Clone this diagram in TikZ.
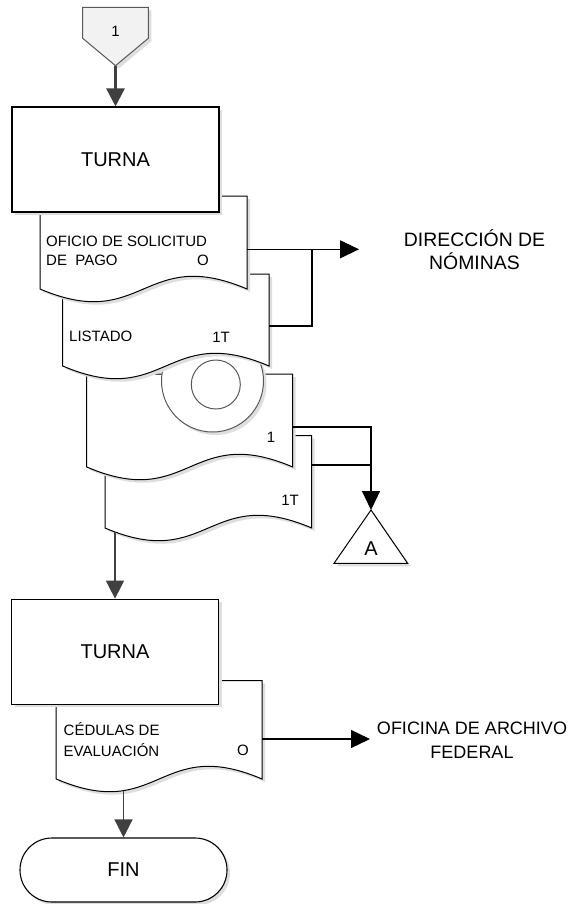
\documentclass[tikz,border=0pt]{standalone}
\usepackage{fontspec}
\setmainfont{Liberation Sans}
\usetikzlibrary{arrows.meta,shadows}
\definecolor{arrowgray}{HTML}{404040}
\definecolor{linegray}{HTML}{595959}
\definecolor{offfill}{HTML}{F2F2F2}
\definecolor{shadowgray}{HTML}{DEDEDE}
\newcommand{\flowdoc}[4]{(#1,#2) -- (#3,#2) -- (#3,#4) .. controls ({(#1+#3)/2},{#4-44}) and ({(#1+#3)/2},{#4+44}) .. (#1,#4) -- cycle}
\tikzset{
  shapeshadow/.style={drop shadow={shadow xshift=3pt, shadow yshift=-3pt, fill=shadowgray, opacity=1}},
  procbox/.style={draw=black, line width=1.1pt, fill=white, minimum width=207pt, minimum height=105pt, inner sep=0pt, font=\fontsize{20}{24}\selectfont, shapeshadow},
  terminal/.style={draw=black, line width=1.1pt, fill=white, rounded corners=31.9pt, minimum width=207pt, minimum height=64pt, inner sep=0pt, font=\fontsize{20}{24}\selectfont, shapeshadow},
  docline/.style={draw=black, line width=1pt, fill=white, shapeshadow},
  offpage/.style={draw=linegray, line width=1pt, fill=offfill, shapeshadow},
  diskout/.style={draw=linegray, line width=1pt, fill=white, shapeshadow},
  diskin/.style={draw=linegray, line width=1pt},
  smalltxt/.style={font=\fontsize{15}{19}\selectfont, inner sep=0pt},
  bigtxt/.style={align=center, inner sep=0pt},
  labeltxt/.style={font=\fontsize{15}{18}\selectfont, inner sep=0pt},
  conline/.style={draw=black, line width=1.2pt},
  blackarrow/.style={draw=black, line width=1.2pt, -{Triangle[length=19pt,width=18pt]}},
  grayarrow/.style={draw=arrowgray, line width=1.3pt, -{Triangle[length=18pt,width=18pt]}},
}
\begin{document}
\begin{tikzpicture}[x=1pt,y=-1pt]
\useasboundingbox (0,0) rectangle (569,904);
\fill[white] (0,0) rectangle (569,904);

% off-page connector
\path[offpage] (82.7,7.3) -- (148.3,7.3) -- (148.3,38.3) -- (115.5,65.7) -- (82.7,38.3) -- cycle;
\coordinate (offtip) at (115.5,65.7);
\node[labeltxt] (offlbl) at (115.5,31) {1};

% document stack (back to front)
\path[docline] \flowdoc{105}{435.7}{311.7}{528};
\path[docline] \flowdoc{86.7}{374}{292.7}{467};
\path[diskout] (212.5,381) circle[radius=51];
\path[diskin] (215.8,384.5) circle[radius=24.5];
\path[docline] \flowdoc{62.7}{274}{269}{366};
\path[docline] \flowdoc{40}{196}{247}{289};

\node[procbox] (turna1) at (115.5,159.5) {TURNA};

% second part
\path[docline] \flowdoc{56.2}{680.5}{262}{779};
\node[procbox] (turna2) at (115,651.7) {TURNA};
\node[terminal] (fin) at (123.5,870) {FIN};

% connector A
\path[docline] (334,563.3) -- (371,510) -- (407.6,563.3) -- cycle;
\coordinate (Aapex) at (371,510);
\node[font=\fontsize{20}{24}\selectfont, inner sep=0pt] (Alabel) at (371,549) {A};

% texts in documents
\node[smalltxt, anchor=west, align=left] (doc1txt) at (46,251.2) {OFICIO DE SOLICITUD\\DE\ \ PAGO};
\node[smalltxt] (doc1n) at (203,260.6) {O};
\node[smalltxt, anchor=west] (doc2txt) at (69,336.7) {LISTADO};
\node[smalltxt] (doc2n) at (221,337) {1T};
\node[smalltxt] (doc3n) at (271,437) {1};
\node[smalltxt] (doc4n) at (290,500) {1T};
\node[smalltxt, anchor=west, align=left, font=\fontsize{15}{21}\selectfont] (doc5txt) at (63.5,739.6) {CÉDULAS DE\\EVALUACIÓN};
\node[smalltxt] (doc5n) at (243,750) {O};

% destinations
\node[bigtxt, font=\fontsize{19.4}{23}\selectfont] (dir) at (474.5,249.5) {DIRECCIÓN DE\\NÓMINAS};
\node[bigtxt, font=\fontsize{18}{24}\selectfont] (ofi) at (472,740) {OFICINA DE ARCHIVO\\FEDERAL};

% connector points
\coordinate (d1out) at (247,249.3);
\coordinate (dirin) at (359,249.3);
\coordinate (join1) at (312,249.3);
\coordinate (d2out) at (269,326);
\coordinate (d3out) at (292.7,427);
\coordinate (d4out) at (311.7,465);
\coordinate (joinA) at (371,465);
\coordinate (d4bot) at (115,532);
\coordinate (d5out) at (262,739);
\coordinate (ofiin) at (370,739);
\coordinate (d5bot) at (123.5,790.5);

% connectors
\draw[grayarrow, line width=2.5pt] (offtip) -- (turna1.north);
\draw[blackarrow] (d1out) -- (dirin);
\draw[conline] (d2out) -| (join1);
\draw[blackarrow] (d3out) -| (Aapex);
\draw[conline] (d4out) -- (joinA);
\draw[grayarrow] (d4bot) -- (turna2.north);
\draw[blackarrow] (d5out) -- (ofiin);
\draw[grayarrow] (d5bot) -- (fin.north);
\end{tikzpicture}
\end{document}
